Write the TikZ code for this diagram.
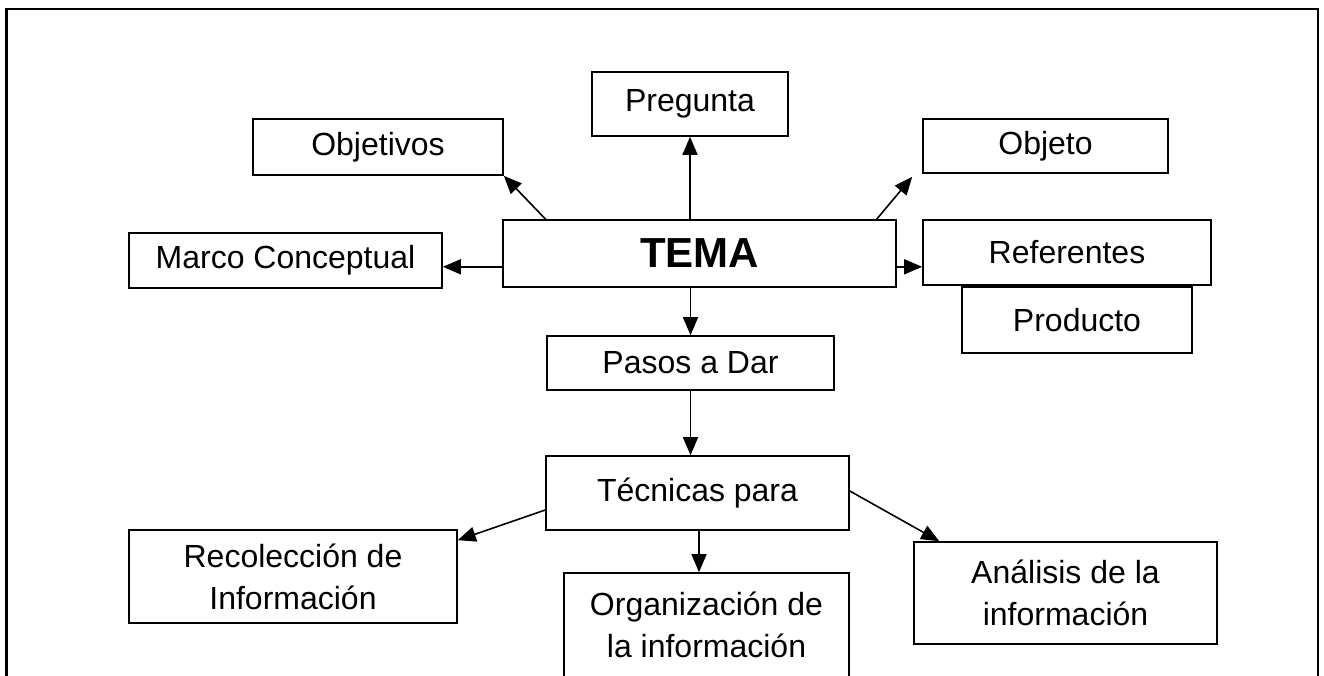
\documentclass[tikz,border=0pt]{standalone}
\usepackage{fontspec}
\setmainfont{Liberation Sans}
\usetikzlibrary{arrows.meta,calc}
\tikzset{
  box/.style={draw, line width=1.6pt, inner sep=0pt, align=center,
    font=\fontsize{32}{42}\selectfont},
  arr/.style={line width=1.6pt, -{Triangle[length=18pt,width=15pt]}},
  frame/.style={line width=2.5pt}
}
\begin{document}
\begin{tikzpicture}[x=1pt,y=-1pt]
\useasboundingbox (0,0) rectangle (1324,675);
\clip (0,0) rectangle (1324,675);
\fill[white] (0,0) rectangle (1324,675);
\draw[frame] (6.7,720) -- (6.7,9) -- (1318,9) -- (1318,720);

\node[box, minimum width=196, minimum height=64] (pregunta) at (690,104) {Pregunta};
\node[box, minimum width=250, minimum height=56] (objetivos) at (378,147) {Objetivos};
\node[box, minimum width=245, minimum height=54] (objeto) at (1045.5,146) {Objeto};
\node[box, minimum width=393, minimum height=67, font=\fontsize{42}{50}\selectfont\bfseries] (tema) at (699.5,253.5) {TEMA};
\node[box, minimum width=313, minimum height=55] (marco) at (285.5,260.5) {Marco Conceptual};
\node[box, minimum width=288, minimum height=65] (referentes) at (1067,252.5) {Referentes};
\node[box, minimum width=230, minimum height=66] (producto) at (1077,320) {Producto};
\node[box, minimum width=287, minimum height=54] (pasos) at (690.5,363) {Pasos a Dar};
\node[box, minimum width=303, minimum height=74] (tecnicas) at (697.5,493) {Técnicas para};
\node[box, minimum width=328, minimum height=93] (recoleccion) at (293,576.5) {Recolección de\\Información};
\node[box, minimum width=285, minimum height=104] (organizacion) at (706.5,625) {Organización de\\la información};
\node[box, minimum width=303, minimum height=102] (analisis) at (1065.5,593) {Análisis de la\\información};

% connectors from TEMA
\draw[arr] (tema.north -| pregunta.south) -- (pregunta.south);
\draw[arr] ($(tema.north west)!0.11!(tema.north east)$) -- (objetivos.south east);
\draw[arr] ($(tema.north west)!0.949!(tema.north east)$) -- ($(objeto.south west)+(-10,3)$);
\draw[arr] ($(tema.south west)+(0,-21)$) coordinate (m1) -- (m1 -| marco.east);
\draw[arr] ($(tema.south east)+(0,-21)$) coordinate (r1) -- (r1 -| referentes.west);
\draw[arr] (tema.south -| pasos.north) -- (pasos.north);
\draw[arr] (pasos.south) -- (pasos.south |- tecnicas.north);

% connectors from Tecnicas
\draw[arr] ($(tecnicas.west)+(0,17)$) -- ($(recoleccion.north east)+(0,11)$);
\draw[arr] ($(tecnicas.south)+(1.5,0)$) coordinate (o1) -- (o1 |- organizacion.north);
\draw[arr] ($(tecnicas.east)+(0,-2)$) -- ($(analisis.north west)+(26,0)$);
\end{tikzpicture}
\end{document}
